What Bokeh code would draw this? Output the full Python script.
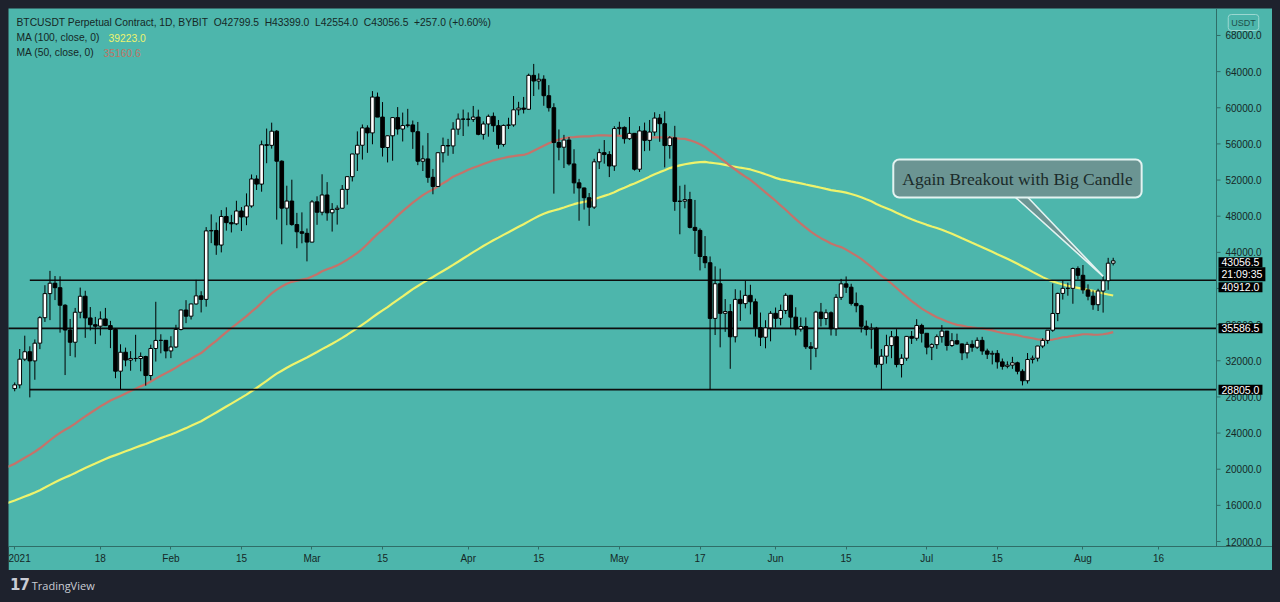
import numpy as np
import pandas as pd
from bokeh.plotting import figure
from bokeh.models import Range1d, FixedTicker, Label, Div, Span
from bokeh.layouts import column
from bokeh.embed import file_html
from bokeh.resources import INLINE
from bokeh.core.properties import value

# ---------------- data ----------------
start_date = "2021-01-01"
first_open = 28923.6

close_jan = [29331, 32178, 33000, 31988, 33949, 36769, 39432, 40582, 40088, 38150, 35404, 34051, 37371, 39144, 36742, 35994,
             35828, 36631, 35891, 35468, 30850, 32945, 32078, 32259, 32254, 32467, 30366, 33364, 34252, 34262, 33092]
high_jan = [29600, 33300, 34778, 33600, 34360, 36939, 40365, 41950, 41380, 41350, 38264, 36628, 37850, 40100, 39747, 37950,
            36852, 37469, 37850, 36415, 35600, 33826, 33456, 33071, 34875, 32921, 32557, 33783, 38531, 34933, 34288]
low_jan = [28624, 28946, 31962, 27950, 29900, 33288, 36300, 36500, 38720, 35111, 30420, 32531, 32380, 36701, 34538, 35357,
           33850, 34800, 35844, 33400, 30071, 28850, 31390, 30900, 31910, 30837, 29241, 29842, 31915, 32825, 32270]

close_feb = [33526, 35466, 37618, 36936, 38290, 39186, 38795, 46374, 46420, 44807, 47969, 47287, 47153, 48577, 47911, 49133,
             52119, 51552, 55906, 55841, 57408, 54087, 48891, 49676, 47073, 46277, 46106, 45135]
high_feb = [34717, 35984, 37662, 38708, 38310, 40955, 39700, 46794, 48200, 47310, 48678, 48985, 48150, 49707, 49010, 50526,
            52618, 52530, 56368, 57700, 58352, 57533, 54183, 51374, 52041, 48370, 48424, 46638]
low_feb = [32296, 33418, 35362, 36161, 36570, 38215, 37351, 37988, 45020, 43727, 43994, 46400, 46202, 47014, 46360, 47003,
           48947, 50901, 50710, 53863, 55477, 47622, 44892, 47003, 46950, 44454, 45000, 43000]

close_mar = [49587, 48440, 50349, 48374, 48751, 48882, 50971, 52375, 54884, 55851, 57773, 57221, 61188, 58968, 55605, 56900,
             58912, 57648, 58030, 58102, 57351, 54083, 54340, 52303, 51293, 55025, 55817, 55777, 57635, 58746, 58740]
high_mar = [49790, 50200, 52640, 51773, 49448, 49200, 51450, 52402, 54900, 57387, 58150, 58058, 61844, 61683, 60633, 56938,
            58981, 60075, 59468, 59880, 58589, 58430, 55830, 57200, 53230, 55073, 56700, 56559, 58405, 59368, 59800]
low_mar = [45115, 47047, 48100, 47500, 46300, 47070, 48882, 49274, 51845, 53005, 54269, 55013, 55961, 58963, 54600, 53950,
           54138, 57023, 56270, 57820, 55450, 53650, 53000, 51700, 50427, 51283, 53950, 54691, 54900, 57000, 56873]

close_apr = [58720, 58970, 57059, 58206, 59054, 58020, 55947, 58048, 58102, 59774, 59964, 59835, 63588, 62960, 63159, 61334,
             60006, 56150, 55633, 56425, 53787, 51690, 51125, 50047, 49004, 54021, 55033, 54824, 53555, 57697]
high_apr = [59490, 60200, 59791, 58500, 59251, 59475, 58650, 58153, 58894, 61300, 60658, 61200, 63774, 64854, 63800, 63594,
            62506, 60499, 57600, 57000, 56757, 55410, 52130, 51166, 50567, 54356, 55460, 56428, 55195, 57963]
low_apr = [57935, 58433, 56956, 56478, 56800, 57333, 55473, 55700, 57654, 57903, 59177, 59369, 59800, 61301, 62020, 60222,
           59580, 50500, 54187, 53329, 53600, 50500, 47500, 48733, 46930, 48800, 53222, 53813, 52330, 53013]

close_may = [57828, 56578, 57169, 53200, 57436, 56393, 57314, 58862, 58240, 55816, 56670, 49631, 49670, 49841, 46762, 46431,
             43538, 42849, 36690, 40526, 37252, 37449, 34655, 38796, 38324, 39241, 38529, 35663, 34605, 35641, 37253]
high_may = [58458, 57939, 58977, 57200, 57963, 58360, 58650, 59500, 59300, 59600, 56862, 58000, 51367, 51483, 50700, 49800,
            46643, 45800, 43546, 42451, 42200, 38829, 38270, 39920, 39791, 40841, 40411, 38877, 37338, 36488, 37499]
low_may = [57026, 56035, 56437, 53046, 52900, 55200, 55250, 56900, 56235, 53400, 54370, 48600, 46000, 48868, 46650, 43825,
           42001, 42250, 28805, 34850, 33488, 35200, 31111, 34031, 36419, 37800, 37134, 34684, 33632, 33379, 34153]

close_jun = [36693, 37568, 39246, 36829, 35513, 35796, 33552, 33380, 37388, 36675, 37313, 35543, 39020, 40516, 40144, 38349,
             38092, 35819, 35483, 35600, 31608, 32509, 33678, 34663, 31584, 32283, 34700, 34494, 35911, 35045]
high_jun = [37894, 38225, 39476, 39289, 37925, 36800, 36789, 34068, 37534, 38400, 37690, 37469, 39380, 41064, 41330, 40527,
            39559, 38200, 36457, 36137, 35750, 33298, 34881, 35298, 35500, 32730, 34749, 35297, 36600, 36100]
low_jun = [35666, 35920, 37170, 35555, 34800, 35230, 33300, 31000, 32396, 35800, 35937, 34800, 34757, 38730, 39506, 38116,
           37365, 35129, 34803, 33336, 31251, 28805, 31683, 32286, 31275, 30151, 32000, 33862, 34225, 34017]

close_jul = [33504, 33786, 34669, 35286, 33690, 34220, 33862, 32875, 33815, 33502, 34259, 33086, 32729, 32820, 31880, 31383,
             31520, 31778, 30839, 29790, 32144, 32287, 33634, 34258, 35381, 37237, 39457, 40019, 40016, 42206, 41461]
high_jul = [35036, 33939, 34909, 35950, 35293, 35059, 35000, 33914, 34100, 34267, 34592, 34652, 33339, 33114, 33185, 32249,
            31936, 32435, 31899, 31063, 32858, 32578, 33650, 34500, 35398, 40550, 39542, 40900, 40640, 42316, 42448]
low_jul = [32711, 32077, 33316, 34004, 33125, 33532, 33770, 32077, 32261, 33004, 33310, 32658, 32202, 31600, 31133, 31020,
           31164, 31109, 30500, 29278, 29482, 31708, 31924, 33401, 33881, 35205, 36383, 38772, 39200, 38313, 41000]

close_aug = [39845, 39147, 38207, 39723, 40862, 42799.5, 43056.5]
high_aug = [42599, 40459, 39780, 39969, 41350, 43392, 43399]
low_aug = [39423, 38690, 37642, 37508, 37332, 39853, 42554]

# daily closes before the visible range (2020-09-22 .. 2020-12-31), used only for the moving averages
pre_closes = [10535, 10233,
              10745, 10702, 10754, 10775, 10709, 10844, 10784,
              10619, 10570, 10550, 10669, 10788, 10604, 10668, 10915, 11065, 11296, 11384, 11555, 11425, 11429, 11503, 11319,
              11360, 11503, 11751, 11910, 12780, 12968, 12923, 13111, 13031, 13075, 13654, 13271, 13437, 13547, 13781,
              13737, 13550, 14025, 14146, 15590, 15580, 14834, 15479, 15332, 15290, 15701, 16276, 16317, 16068, 15955, 16716,
              17645, 17804, 17817, 18621, 18642, 18370, 18364, 19107, 18732, 17150, 17139, 17719, 18184, 19695,
              18764, 19204, 19421, 18650, 19147, 19359, 19166, 18324, 18541, 18254, 18036, 18808, 19175, 19273, 19426, 21335,
              22797, 23107, 23821, 23455, 22719, 23810, 23232, 23729, 24712, 26493, 26281, 27079, 27385, 28875, 28923]

levels = [40912.0, 35586.5, 28805.0]
level_labels = ["40912.0", "35586.5", "28805.0"]
level_from = ["2021-01-04", "2020-12-20", "2021-01-04"]

tick_dates = ["2021-01-01", "2021-01-18", "2021-02-01", "2021-02-15", "2021-03-01", "2021-03-15", "2021-04-01",
              "2021-04-15", "2021-05-01", "2021-05-17", "2021-06-01", "2021-06-15", "2021-07-01", "2021-07-15",
              "2021-08-01", "2021-08-16"]
tick_labels = ["2021", "18", "Feb", "15", "Mar", "15", "Apr", "15", "May", "17", "Jun", "15", "Jul", "15", "Aug", "16"]
price_ticks = list(range(12000, 68001, 4000))
price_tick_labels = ["%.1f" % v for v in price_ticks]

NB = "\u00a0"
header_text = ("BTCUSDT Perpetual Contract, 1D, BYBIT" + NB * 2 + "O42799.5" + NB * 2 + "H43399.0" + NB * 2 +
               "L42554.0" + NB * 2 + "C43056.5" + NB * 2 + "+257.0 (+0.60%)")
ma_names = ["MA (100, close, 0)", "MA (50, close, 0)"]
ma_values = ["39223.0", "35160.6"]
last_price = "43056.5"
countdown = "21:09:35"
currency = "USDT"
callout_text = "Again Breakout with Big Candle"
callout_target = "2021-08-05"

# ---------------- derived ----------------
t0 = pd.Timestamp(start_date)
close_all = close_jan + close_feb + close_mar + close_apr + close_may + close_jun + close_jul + close_aug
high_all = high_jan + high_feb + high_mar + high_apr + high_may + high_jun + high_jul + high_aug
low_all = low_jan + low_feb + low_mar + low_apr + low_may + low_jun + low_jul + low_aug
open_all = [first_open] + close_all[:-1]
n = len(close_all)
days = np.arange(n)
o = np.array(open_all, float)
c = np.array(close_all, float)
h = np.array(high_all, float)
l = np.array(low_all, float)
up = c >= o

full = pd.Series(pre_closes + close_all, dtype=float)
full_days = np.arange(-len(pre_closes), n)
ma100 = full.rolling(100).mean().to_numpy()
ma50 = full.rolling(50).mean().to_numpy()
keep = full_days >= -3

def day_of(s):
    return (pd.Timestamp(s) - t0).days

# ---------------- styling / layout ----------------
TEAL = "#4db6ac"
TXT = "#152826"
AXIS = "#2f6e68"
FONT = "Liberation Sans"
W, H = 1264, 562
PX_DAY = 5.039                 # horizontal pixels per day
X0 = -1.23                     # day at the left edge of the frame
SCALE_PX = 1208                # where the price scale starts (frame pixels)
day_at = lambda px: X0 + px / PX_DAY
axis_day = day_at(SCALE_PX)

p = figure(width=W, height=H, x_range=Range1d(X0, day_at(W)), y_range=Range1d(11447, 70986),
           y_axis_location=None, toolbar_location=None, output_backend="svg",
           min_border_left=0, min_border_top=0, min_border_right=0, min_border_bottom=24,
           background_fill_color=TEAL, border_fill_color=TEAL, outline_line_color=None)
p.xgrid.visible = False
p.ygrid.visible = False

# time axis
p.xaxis.ticker = FixedTicker(ticks=[day_of(d) for d in tick_dates])
p.xaxis.major_label_overrides = {day_of(d): t for d, t in zip(tick_dates, tick_labels)}
p.xaxis.axis_line_color = AXIS
p.xaxis.major_tick_line_color = AXIS
p.xaxis.major_tick_in = 0
p.xaxis.major_tick_out = 3
p.xaxis.minor_tick_line_color = None
p.xaxis.major_label_text_color = TXT
p.xaxis.major_label_text_font = FONT
p.xaxis.major_label_text_font_size = "10px"
p.xaxis.major_label_standoff = 3

# price scale (right side, TradingView style)
p.add_layout(Span(location=axis_day, dimension="height", line_color=AXIS, line_width=1))
p.segment(x0=[axis_day] * len(price_ticks), y0=price_ticks, x1=[day_at(SCALE_PX + 4)] * len(price_ticks),
          y1=price_ticks, line_color=AXIS, line_width=1)
p.text(x=[day_at(SCALE_PX + 9)] * len(price_ticks), y=price_ticks, text=price_tick_labels,
       text_font=value(FONT), text_font_size=value("10px"), text_color=TXT, text_baseline="middle",
       text_align="left")

# moving averages
p.line(full_days[keep], ma100[keep], line_color="#eef36c", line_width=2.2)
p.line(full_days[keep], ma50[keep], line_color="#c4736a", line_width=2.2)

# horizontal levels
p.segment(x0=[day_of(d) for d in level_from], y0=levels, x1=[axis_day] * len(levels), y1=levels,
          line_color="#0d0d0d", line_width=1.6)

# candles
p.segment(x0=days, y0=l, x1=days, y1=h, line_color="black", line_width=1)
p.vbar(x=days[up], top=c[up], bottom=o[up], width=0.72, fill_color="white", line_color="black", line_width=1)
p.vbar(x=days[~up], top=o[~up], bottom=c[~up], width=0.72, fill_color="black", line_color="black", line_width=1)

# callout (tail points at the high of the target candle)
tx = day_of(callout_target)
ty = high_all[day_of(callout_target)]
p.patch(x=[tx - 18.6, tx - 16.0, tx], y=[50700, 50700, ty], fill_color="#6b9593", line_color="#e3f3f1",
        line_width=1.6)
p.add_layout(Label(x=tx - 17.0, y=52172, text=callout_text, text_font="Liberation Serif", text_font_size="17.5px",
                   text_color="#1a2b2a", text_align="center", text_baseline="middle",
                   background_fill_color="#6b9593", background_fill_alpha=1.0,
                   border_line_color="#e3f3f1", border_line_width=2, border_radius=6, padding=9))

# header
p.add_layout(Label(x=8, y=524, x_units="screen", y_units="screen", text=header_text, text_font=FONT,
                   text_font_size="10.3px", text_color=TXT, text_baseline="middle"))
for i, (nm, vl, col, vx) in enumerate(zip(ma_names, ma_values, ["#eef36c", "#bd7565"], [100, 95])):
    yy = 509 - 15 * i
    p.add_layout(Label(x=8, y=yy, x_units="screen", y_units="screen", text=nm, text_font=FONT,
                       text_font_size="10.3px", text_color=TXT, text_baseline="middle"))
    p.add_layout(Label(x=vx, y=yy, x_units="screen", y_units="screen", text=vl, text_font=FONT,
                       text_font_size="10.3px", text_color=col, text_baseline="middle"))

# price-scale badges
p.add_layout(Label(x=1235, y=524, x_units="screen", y_units="screen", text=currency, text_font=FONT,
                   text_font_size="9px", text_color="#1d4f4a", text_align="center", text_baseline="middle",
                   background_fill_color=TEAL, border_line_color="#9bd8d1", border_line_width=1,
                   border_radius=3, padding=3))
box_kw = dict(x=SCALE_PX + 2, x_units="screen", text_font=FONT, text_font_size="10.5px", text_color="white",
              text_baseline="middle", background_fill_color="black", padding=(3, 1))
# TradingView nudges a level tag down when it would collide with the last-price tag
level_nudge = [-7, 0, 0]
for lv, lt, dy in zip(levels, level_labels, level_nudge):
    p.add_layout(Label(y=lv, y_offset=dy, text=lt, **box_kw))
p.add_layout(Label(y=float(last_price), y_offset=-13.5, text=countdown, **box_kw))
p.add_layout(Label(y=float(last_price), y_offset=-1.5, text=last_price, **box_kw))

footer = Div(text='<span style="font-family:\'DejaVu Sans\';font-weight:bold;font-size:15px;letter-spacing:-1px">17</span>'
                  '&nbsp;TradingView',
             width=W, height=24,
             styles={"color": "#c9ccd4", "font-family": "Open Sans", "font-size": "11px", "padding-top": "0px",
                     "margin-left": "2px"})

page = column(p, footer, spacing=0)
html = file_html(page, INLINE)
html = html.replace("</head>",
                    "<style>html{background:#1e222d;overflow:hidden;margin:0;}"
                    "body{background:#1e222d;overflow:hidden;margin:8px !important;}</style></head>", 1)
open("out.html", "w").write(html)
